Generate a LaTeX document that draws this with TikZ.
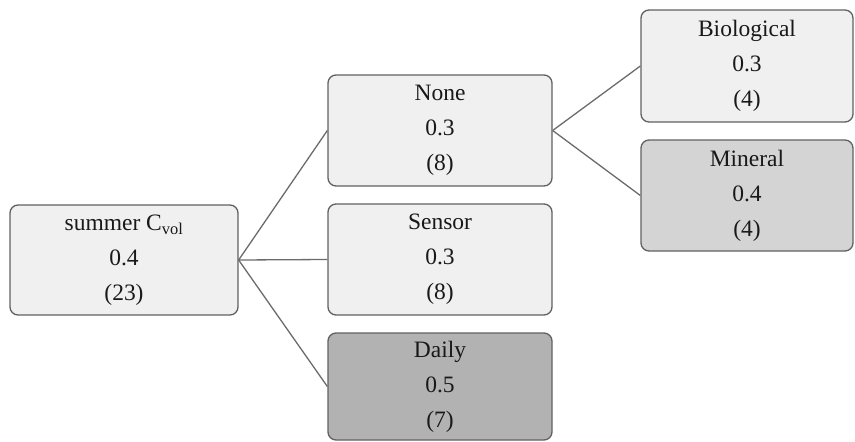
\documentclass[tikz,border=0pt]{standalone}
\usepackage{fontspec}
\setmainfont{Liberation Serif}
\begin{document}
\begin{tikzpicture}[x=1pt,y=-1pt,
  box/.style={draw=black!62,line width=1.3pt,rounded corners=8pt,align=center,
    font=\fontsize{23.5}{35}\selectfont,inner sep=0pt,text=black!90},
  light/.style={box,fill=black!6},
  mid/.style={box,fill=black!17},
  dark/.style={box,fill=black!30},
  link/.style={draw=black!58,line width=1.3pt}]
\useasboundingbox (0,0) rectangle (855,442);
\node[light,minimum width=228pt,minimum height=110pt] (root) at (124,260) {summer C\textsubscript{vol}\\0.4\\(23)};
\node[light,minimum width=224pt,minimum height=111pt] (none) at (440,130.5) {None\\0.3\\(8)};
\node[light,minimum width=224pt,minimum height=111pt] (sensor) at (440,259.5) {Sensor\\0.3\\(8)};
\node[dark,minimum width=224pt,minimum height=107pt] (daily) at (440,386.5) {Daily\\0.5\\(7)};
\node[light,minimum width=212pt,minimum height=112pt] (bio) at (747,66) {Biological\\0.3\\(4)};
\node[mid,minimum width=212pt,minimum height=111pt] (min) at (747,195.5) {Mineral\\0.4\\(4)};
\draw[link] (root.east) -- (none.west);
\draw[link] (root.east) -- (sensor.west);
\draw[link] (root.east) -- (daily.west);
\draw[link] (none.east) -- (bio.west);
\draw[link] (none.east) -- (min.west);
\end{tikzpicture}
\end{document}
